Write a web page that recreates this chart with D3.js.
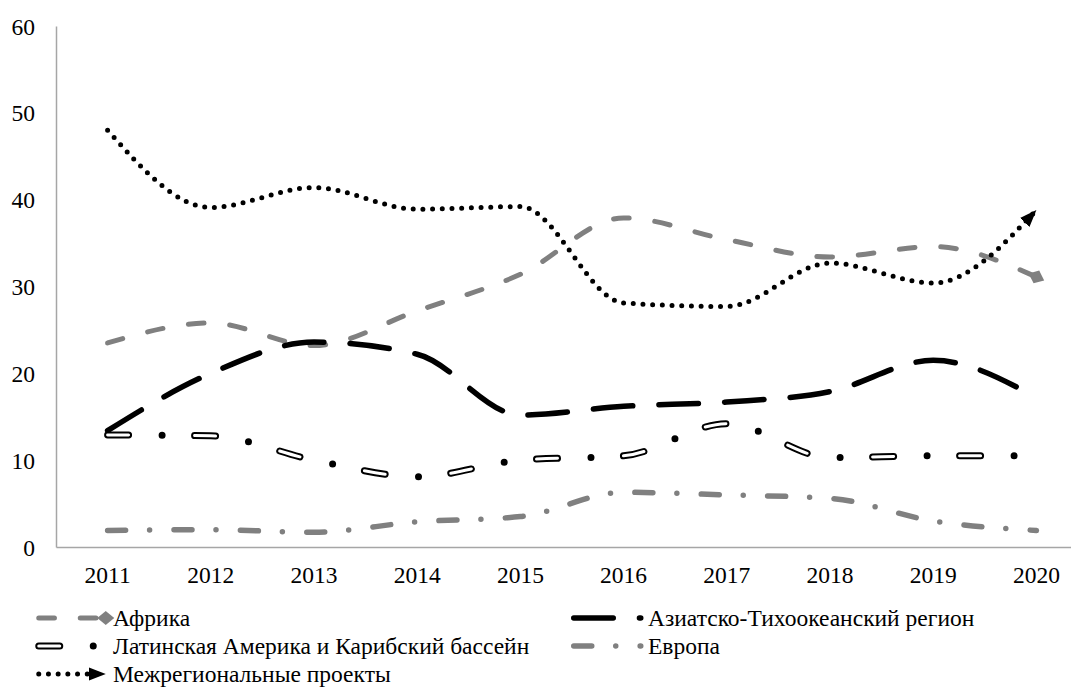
<!DOCTYPE html>
<html>
<head>
<meta charset="utf-8">
<script src="https://cdn.jsdelivr.net/npm/d3@7"></script>
<style>
    body { margin: 0; background: #fff; }
</style>
</head>
<body>
<div id="chart"></div>
<script>
// values
var years = ["2011", "2012", "2013", "2014", "2015", "2016", "2017", "2018", "2019", "2020"];
var africa = [23.5, 25.8, 23.2, 27.2, 31.4, 37.9, 35.4, 33.4, 34.6, 31.1];
var asiaPacific = [13.4, 20.0, 23.6, 22.2, 15.2, 16.2, 16.7, 17.9, 21.5, 17.2];
var latinAmerica = [12.9, 12.8, 10.0, 8.1, 10.0, 10.5, 14.2, 10.3, 10.5, 10.5];
var europe = [1.9, 2.0, 1.7, 2.9, 3.5, 6.3, 6.0, 5.6, 3.0, 1.9];
var interregional = [48.0, 39.1, 41.4, 38.9, 39.2, 28.1, 27.7, 32.7, 30.4, 38.8];
var yTicks = [0, 10, 20, 30, 40, 50, 60];
var seriesNames = ["Африка", "Азиатско-Тихоокеанский регион", "Латинская Америка и Карибский бассейн", "Европа", "Межрегиональные проекты"];

var width = 1071, height = 691;
var font = "'Liberation Serif', 'Times New Roman', serif";
var fontSize = "23.5px";

var svg = d3.select("#chart").append("svg")
    .attr("width", width)
    .attr("height", height);

var x = d3.scaleBand().domain(years).range([56, 1088]);
var y = d3.scaleLinear().domain([0, 60]).range([547, 26]);

// line end shapes
var defs = svg.append("defs");
defs.append("marker")
    .attr("id", "arrow")
    .attr("markerUnits", "userSpaceOnUse")
    .attr("viewBox", "0 -7 18 14")
    .attr("markerWidth", 18)
    .attr("markerHeight", 14)
    .attr("refX", 17)
    .attr("refY", 0)
    .attr("orient", "auto")
    .append("path")
    .attr("d", "M0,-6.5L17,0L0,6.5Z")
    .attr("fill", "#000");
defs.append("marker")
    .attr("id", "diamond")
    .attr("markerUnits", "userSpaceOnUse")
    .attr("viewBox", "-9 -8 18 16")
    .attr("markerWidth", 18)
    .attr("markerHeight", 16)
    .attr("refX", 0)
    .attr("refY", 0)
    .attr("orient", "auto")
    .append("path")
    .attr("d", "M-8.5,0L0,-7L8.5,0L0,7Z")
    .attr("fill", "#808080");

// axes
var yAxis = svg.append("g")
    .attr("transform", "translate(56,0)")
    .call(d3.axisLeft(y).tickValues(yTicks).tickSize(0).tickPadding(21));
var xAxis = svg.append("g")
    .attr("transform", "translate(0,547)")
    .call(d3.axisBottom(x).tickSize(0).tickPadding(19.5));

[yAxis, xAxis].forEach(function(g) {
    g.select(".domain").attr("stroke", "#a6a6a6").attr("stroke-width", 1.5);
    g.selectAll("text")
        .attr("font-family", font)
        .attr("font-size", fontSize)
        .attr("fill", "#000");
});
yAxis.selectAll("text").attr("dy", "0.34em");

// one stroke layer per entry; latin america gets a white core inside its dashes
var styles = [
    [{ stroke: "#808080", width: 5, dash: "15.7,25.8", end: "diamond" }],
    [{ stroke: "#000", width: 5.5, dash: "39.5,26.2" }],
    [{ stroke: "#000", width: 7, dash: "21,33.5,0,32.5" },
     { stroke: "#fff", width: 3, dash: "21,66" }],
    [{ stroke: "#808080", width: 5.5, dash: "18,24,0,24.4" }],
    [{ stroke: "#000", width: 5, dash: "0,9.7", end: "arrow" }]
];
var values = [africa, asiaPacific, latinAmerica, europe, interregional];

var line = d3.line()
    .x(function(d, i) { return x(years[i]) + x.bandwidth() / 2; })
    .y(function(d) { return y(d); })
    .curve(d3.curveMonotoneX);

function drawStroke(g, d, s) {
    var p = g.append("path")
        .attr("d", d)
        .attr("fill", "none")
        .attr("stroke", s.stroke)
        .attr("stroke-width", s.width)
        .attr("stroke-linecap", "round")
        .attr("stroke-linejoin", "round")
        .attr("stroke-dasharray", s.dash);
    if (s.end) p.attr("marker-end", "url(#" + s.end + ")");
}

var plot = svg.append("g");
values.forEach(function(v, k) {
    styles[k].forEach(function(s) { drawStroke(plot, line(v), s); });
});

// legend, two columns
var legendCols = [36, 571];
var legendRows = [618, 646, 674];
var legend = svg.append("g");
seriesNames.forEach(function(name, k) {
    var x0 = legendCols[k % 2], y0 = legendRows[Math.floor(k / 2)];
    var d = "M" + (x0 + 2.75) + "," + y0 + "H" + (x0 + 69.75);
    styles[k].forEach(function(s) { drawStroke(legend, d, s); });
    legend.append("text")
        .attr("x", x0 + 77)
        .attr("y", y0 + 8)
        .attr("font-family", font)
        .attr("font-size", fontSize)
        .attr("fill", "#000")
        .text(name);
});
</script>
</body>
</html>
